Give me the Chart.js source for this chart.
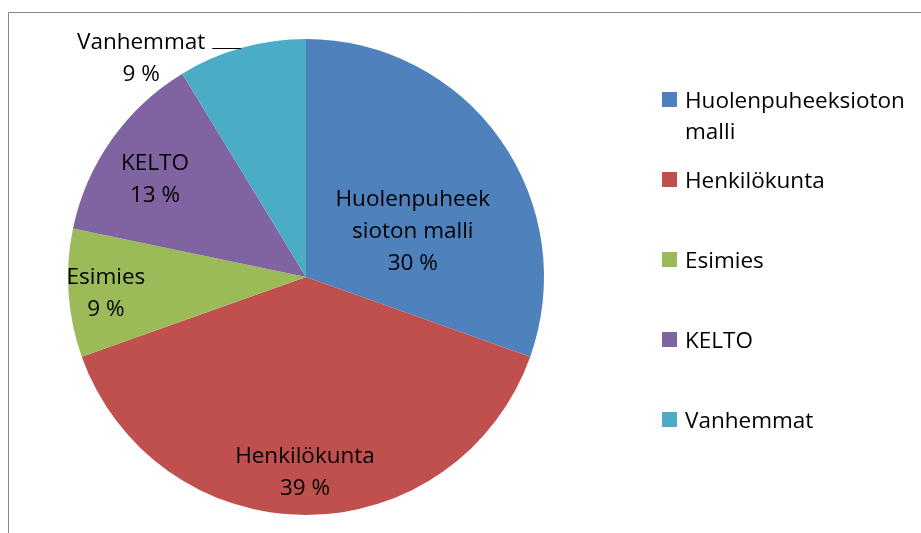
<!DOCTYPE html>
<html>
<head>
<meta charset="utf-8">
<script src="https://cdn.jsdelivr.net/npm/chart.js@4.4.1/dist/chart.umd.min.js"></script>
<style>
  html, body { margin: 0; padding: 0; background: #fff; }
  .chart-container { position: relative; width: 921px; height: 533px; }
</style>
</head>
<body>
<div class="chart-container">
  <canvas id="pieChart"></canvas>
</div>
<script>
// categories and answer counts (7 + 9 + 2 + 3 + 2 = 23)
const categories = ['Huolenpuheeksioton malli', 'Henkilökunta', 'Esimies', 'KELTO', 'Vanhemmat'];
const counts = [7, 9, 2, 3, 2];
const legendLines = [['Huolenpuheeksioton', 'malli'], ['Henkilökunta'], ['Esimies'], ['KELTO'], ['Vanhemmat']];
const sliceLabelLines = [['Huolenpuheek', 'sioton malli'], ['Henkilökunta'], ['Esimies'], ['KELTO'], ['Vanhemmat']];
const colors = ['#4F81BD', '#C0504D', '#9BBB59', '#8064A2', '#4BACC6'];

// where each data label sits: fraction of radius, angle shift in degrees
const labelRadius = [0.49, 0.815, 0.843, 0.76, 1.155];
const labelShift = [11.5, 0.3, -0.4, -1.8, -21.2];

const FONT = '22.5px "Open Sans"';

const framePlugin = {
  id: 'frame',
  beforeDraw(chart) {
    const ctx = chart.ctx;
    ctx.save();
    ctx.strokeStyle = '#878787';
    ctx.lineWidth = 1;
    ctx.beginPath();
    ctx.moveTo(8.5, chart.height + 2);
    ctx.lineTo(8.5, 12.5);
    ctx.lineTo(chart.width + 2, 12.5);
    ctx.stroke();
    ctx.restore();
  }
};

const labelPlugin = {
  id: 'pieLabels',
  afterDraw(chart) {
    const ctx = chart.ctx;
    const values = chart.data.datasets[0].data;
    const total = values.reduce((a, b) => a + b, 0);
    const arcs = chart.getDatasetMeta(0).data;
    ctx.save();
    ctx.font = FONT;
    ctx.fillStyle = '#000';
    ctx.textAlign = 'center';
    ctx.textBaseline = 'middle';
    const lineH = 32;
    const dy = 2; // text baseline nudge

    arcs.forEach((arc, i) => {
      const mid = (arc.startAngle + arc.endAngle) / 2 + labelShift[i] * Math.PI / 180;
      const r = arc.outerRadius * labelRadius[i];
      const cx = arc.x + Math.cos(mid) * r;
      const cy = arc.y + Math.sin(mid) * r;
      const lines = sliceLabelLines[i].concat([Math.round(values[i] / total * 100) + ' %']);
      const top = cy - (lines.length - 1) * lineH / 2;
      lines.forEach((t, k) => ctx.fillText(t, cx, top + k * lineH + dy));

      // leader line for the label outside the pie
      if (labelRadius[i] > 1) {
        const w = ctx.measureText(lines[0]).width;
        const ly = top + 7;
        const x0 = cx + w / 2 + 7;
        const x1 = arc.x - Math.sqrt(Math.max(0, arc.outerRadius * arc.outerRadius - (ly - arc.y) * (ly - arc.y)));
        ctx.strokeStyle = '#000';
        ctx.lineWidth = 1;
        ctx.beginPath();
        ctx.moveTo(x0, Math.round(ly) + 0.5);
        ctx.lineTo(x1, Math.round(ly) + 0.5);
        ctx.stroke();
      }
    });

    // legend
    ctx.textAlign = 'left';
    const lx = 662, ly0 = 100, step = 80;
    legendLines.forEach((lines, i) => {
      const y = ly0 + i * step;
      ctx.fillStyle = colors[i];
      ctx.fillRect(lx, y - 8, 15, 15);
      ctx.fillStyle = '#000';
      lines.forEach((t, k) => ctx.fillText(t, lx + 23, y + k * 31 + dy));
    });
    ctx.restore();
  }
};

new Chart(document.getElementById('pieChart'), {
  type: 'pie',
  data: {
    labels: categories,
    datasets: [{
      data: counts,
      backgroundColor: colors,
      borderWidth: 0,
      hoverOffset: 0,
    }],
  },
  options: {
    responsive: true,
    maintainAspectRatio: false,
    animation: false,
    layout: {
      padding: { left: 68, top: 39, right: 377, bottom: 18 },
    },
    plugins: {
      legend: { display: false },
      tooltip: { enabled: false },
    },
  },
  plugins: [framePlugin, labelPlugin],
});
</script>
</body>
</html>
